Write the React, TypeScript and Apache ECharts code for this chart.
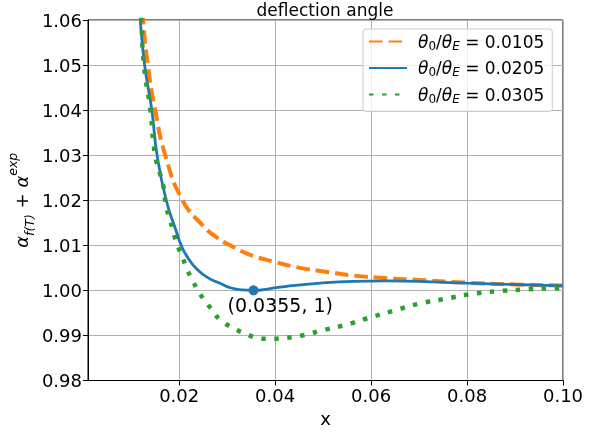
import React, { useEffect, useRef } from 'react';
import * as echarts from 'echarts';

const FONT = 'DejaVu Sans';

const xTicks = [0.02, 0.04, 0.06, 0.08, 0.1];
const yMin = 0.98;
const yMax = 1.06;
const yStep = 0.01;
const xMin = 0.001;
const xMax = 0.1;

const ratios = ['0.0105', '0.0205', '0.0305'];

const orangeX = [0.0117, 0.0125, 0.01348, 0.015, 0.0171, 0.0207, 0.0251, 0.0279, 0.0306, 0.0348, 0.04, 0.0452, 0.0508, 0.0563, 0.0633, 0.0702, 0.08, 0.09, 0.1];
const orangeY = [1.075, 1.06, 1.05, 1.04, 1.03, 1.02, 1.0142, 1.0117, 1.01, 1.0079, 1.0063, 1.005, 1.0041, 1.0033, 1.0027, 1.0023, 1.0017, 1.0013, 1.0011];

const blueX = [0.0112, 0.0119, 0.0128, 0.0143, 0.0154, 0.0173, 0.0195, 0.02035, 0.0216, 0.0237, 0.0265, 0.0285, 0.0306, 0.033, 0.0355, 0.039, 0.0424, 0.0494, 0.0563, 0.0633, 0.07, 0.08, 0.09, 0.1];
const blueY = [1.075, 1.06, 1.05, 1.04, 1.03, 1.02, 1.0128, 1.0102, 1.0076, 1.0047, 1.0025, 1.0016, 1.0006, 1.0001, 1.0, 1.0004, 1.0009, 1.0016, 1.002, 1.0021, 1.002, 1.0016, 1.0013, 1.001];

const greenX = [0.0113, 0.0121, 0.01265, 0.014, 0.015, 0.0167, 0.0173, 0.0181, 0.0188, 0.0195, 0.0206, 0.0216, 0.0228, 0.024, 0.0256, 0.027, 0.0285, 0.0313, 0.0338, 0.0362, 0.039, 0.0417, 0.0445, 0.0469, 0.0497, 0.0549, 0.0601, 0.0654, 0.0702, 0.0758, 0.081, 0.0862, 0.0917, 0.0969, 0.1];
const greenY = [1.075, 1.06, 1.05, 1.04, 1.03, 1.0231, 1.0185, 1.0157, 1.013, 1.0104, 1.0076, 1.0048, 1.0022, 0.9998, 0.9974, 0.9955, 0.9935, 0.9916, 0.9904, 0.9895, 0.98925, 0.9894, 0.9898, 0.9903, 0.9911, 0.9924, 0.9941, 0.9957, 0.9971, 0.9982, 0.9992, 0.9998, 1.0002, 1.00045, 1.0005];

const markX = [0.0355];
const markY = [1];

const zip = (xs: number[], ys: number[]) => xs.map((x, i) => [x, ys[i]]);
const seriesName = (r: string) => `θ0/θE = ${r}`;

export default function App() {
  const ref = useRef<HTMLDivElement>(null);
  useEffect(() => {
    const chart = echarts.init(ref.current!, undefined, { renderer: 'svg' });
    const names = ratios.map(seriesName);
    const option: any = {
      animation: false,
      textStyle: { fontFamily: FONT },
      grid: {
        left: 88,
        right: 37,
        top: 20,
        bottom: 51.5,
        containLabel: false,
        outerBoundsMode: 'none',
        show: true,
        borderColor: '#000',
        borderWidth: 1,
        backgroundColor: 'transparent',
      },
      graphic: [
        {
          type: 'text',
          x: 325,
          y: 9.5,
          style: {
            text: 'deflection angle',
            fontFamily: FONT,
            fontSize: 17,
            fill: '#000',
            align: 'center',
            verticalAlign: 'middle',
          },
        },
      ],
      legend: {
        orient: 'vertical',
        left: 363,
        top: 29,
        padding: [4, 8, 7, 5],
        itemGap: 8,
        itemWidth: 38,
        itemHeight: 2,
        backgroundColor: 'rgba(255,255,255,0.8)',
        borderColor: '#cccccc',
        borderWidth: 1,
        borderRadius: 3,
        itemStyle: { opacity: 0 },
        data: names,
        formatter: (name: string) => {
          const r = name.split('= ')[1];
          return `{it0|θ}{sub|0}{n|/}{it|θ}{subi|E}{n| = ${r}}`;
        },
        textStyle: {
          fontFamily: FONT,
          fontSize: 17,
          color: '#000',
          rich: {
            it0: { fontFamily: FONT, fontStyle: 'italic', fontSize: 17, lineHeight: 20, padding: [0, 0, 0, 6], color: '#000' },
            it: { fontFamily: FONT, fontStyle: 'italic', fontSize: 17, lineHeight: 20, color: '#000' },
            n: { fontFamily: FONT, fontSize: 17, lineHeight: 20, color: '#000' },
            sub: { fontFamily: FONT, fontSize: 12, lineHeight: 12, verticalAlign: 'bottom', color: '#000' },
            subi: { fontFamily: FONT, fontStyle: 'italic', fontSize: 12, lineHeight: 12, verticalAlign: 'bottom', color: '#000' },
          },
        },
      },
      xAxis: {
        type: 'value',
        min: xMin,
        max: xMax,
        name: 'x',
        nameLocation: 'middle',
        nameGap: 29,
        nameMoveOverlap: false,
        nameTextStyle: { fontFamily: FONT, fontSize: 18, color: '#000' },
        axisLine: { show: true, onZero: false, lineStyle: { color: '#000', width: 1 } },
        axisTick: { show: true, length: 5, lineStyle: { color: '#000', width: 1 }, customValues: xTicks },
        axisLabel: {
          customValues: xTicks,
          margin: 6,
          fontFamily: FONT,
          fontSize: 18,
          color: '#000',
          formatter: (v: number) => v.toFixed(2),
        },
        splitLine: { show: true, lineStyle: { color: '#b0b0b0', width: 1 } },
      },
      yAxis: {
        type: 'value',
        min: yMin,
        max: yMax,
        interval: yStep,
        name: '{a|α}{sub|f(T)}{n| + }{a|α}{sup|exp}',
        nameLocation: 'middle',
        nameRotate: 90,
        nameGap: 52,
        nameMoveOverlap: false,
        nameTextStyle: {
          fontFamily: FONT,
          fontSize: 18,
          color: '#000',
          rich: {
            a: { fontFamily: FONT, fontStyle: 'italic', fontSize: 18, lineHeight: 30, color: '#000' },
            n: { fontFamily: FONT, fontSize: 18, lineHeight: 30, color: '#000' },
            sub: { fontFamily: FONT, fontStyle: 'italic', fontSize: 12.5, lineHeight: 12, verticalAlign: 'bottom', color: '#000' },
            sup: { fontFamily: FONT, fontStyle: 'italic', fontSize: 12.5, lineHeight: 20, verticalAlign: 'top', color: '#000' },
          },
        },
        axisLine: { show: true, onZero: false, lineStyle: { color: '#000', width: 1 } },
        axisTick: { show: true, length: 5, lineStyle: { color: '#000', width: 1 } },
        axisLabel: {
          margin: 6,
          fontFamily: FONT,
          fontSize: 18,
          color: '#000',
          formatter: (v: number) => v.toFixed(2),
        },
        splitLine: { show: true, lineStyle: { color: '#b0b0b0', width: 1 } },
      },
      series: [
        {
          name: names[0],
          type: 'line',
          data: zip(orangeX, orangeY),
          showSymbol: false,
          symbol: 'none',
          smooth: 0.5,
          clip: true,
          lineStyle: { color: '#ff7f0e', width: 4, type: [13.5, 6] },
          itemStyle: { color: '#ff7f0e' },
          z: 2,
        },
        {
          name: names[1],
          type: 'line',
          data: zip(blueX, blueY),
          showSymbol: false,
          symbol: 'none',
          smooth: 0.5,
          clip: true,
          lineStyle: { color: '#1f77b4', width: 2.8 },
          itemStyle: { color: '#1f77b4' },
          z: 3,
        },
        {
          name: names[2],
          type: 'line',
          data: zip(greenX, greenY),
          showSymbol: false,
          symbol: 'none',
          smooth: 0.5,
          clip: true,
          lineStyle: { color: '#2ca02c', width: 4.5, type: [4.5, 8.5] },
          itemStyle: { color: '#2ca02c' },
          z: 4,
        },
        {
          name: 'minimum',
          type: 'scatter',
          data: zip(markX, markY),
          symbol: 'circle',
          symbolSize: 10,
          itemStyle: { color: '#1f77b4', opacity: 1 },
          z: 5,
          label: {
            show: true,
            formatter: (p: any) => `(${p.value[0]}, ${p.value[1]})`,
            position: [-21, 20],
            align: 'left',
            verticalAlign: 'middle',
            fontFamily: FONT,
            fontSize: 19,
            color: '#000',
            opacity: 1,
          },
        },
      ],
    };
    chart.setOption(option);
    return () => chart.dispose();
  }, []);
  return <div ref={ref} style={{ position: 'fixed', left: 0, top: 0, width: 600, height: 432 }} />;
}
